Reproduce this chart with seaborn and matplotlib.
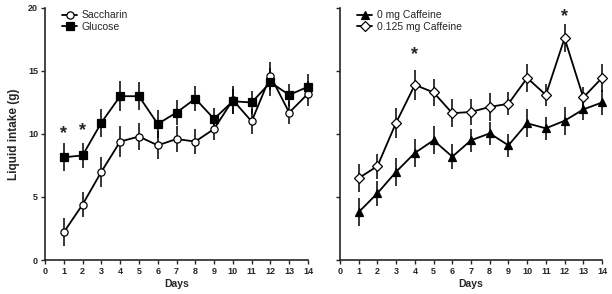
import numpy as np
import pandas as pd
import seaborn as sns
import matplotlib.pyplot as plt

days = list(range(1, 15))

# left panel
saccharin = [2.2, 4.4, 7.0, 9.4, 9.8, 9.1, 9.6, 9.4, 10.4, 12.7, 11.0, 14.6, 11.7, 13.2]
saccharin_err = [1.1, 1.0, 1.2, 1.2, 1.1, 1.1, 1.0, 1.0, 0.9, 1.1, 1.0, 1.1, 0.9, 1.0]
glucose = [8.15, 8.3, 10.9, 13.0, 13.0, 10.8, 11.7, 12.8, 11.2, 12.6, 12.5, 14.1, 13.1, 13.75]
glucose_err = [1.1, 1.0, 1.1, 1.2, 1.1, 1.1, 1.0, 1.0, 0.9, 1.0, 0.9, 1.1, 0.9, 1.0]

# right panel
caff0 = [3.8, 5.3, 7.0, 8.5, 9.5, 8.2, 9.5, 10.05, 9.1, 10.85, 10.45, 11.05, 11.95, 12.5]
caff0_err = [1.1, 1.0, 1.1, 1.1, 1.1, 1.0, 0.9, 0.9, 0.9, 1.1, 0.9, 1.1, 0.8, 1.0]
caff125 = [6.5, 7.45, 10.9, 13.9, 13.3, 11.65, 11.75, 12.15, 12.4, 14.45, 13.1, 17.6, 12.9, 14.45]
caff125_err = [1.1, 1.0, 1.2, 1.2, 1.1, 1.1, 1.0, 1.1, 0.9, 1.1, 0.9, 1.1, 0.8, 1.1]

left_stars = [(1, 10.0), (2, 10.3)]
right_stars = [(4, 16.3), (12, 19.3)]

sns.set_style("ticks")
plt.rcParams['font.family'] = ['Liberation Sans', 'DejaVu Sans']

fig = plt.figure(figsize=(6.12, 2.94), dpi=100)
ax1 = fig.add_axes([45/612, 1-260/294, 263/612, 252/294])
ax2 = fig.add_axes([340/612, 1-260/294, 262/612, 252/294])


def draw(ax, y, err, label, marker, fill):
    df = pd.DataFrame({'day': days, 'val': y})
    ax.errorbar(days, y, yerr=err, fmt='none', ecolor='black', elinewidth=1.1,
                capsize=0, zorder=2, clip_on=False)
    sns.lineplot(data=df, x='day', y='val', ax=ax, color='black', linewidth=1.3,
                 marker=marker, markersize=5.2 if marker != 'D' else 4.6,
                 markerfacecolor=fill, markeredgecolor='black', markeredgewidth=0.9,
                 label=label, clip_on=False, zorder=3)


draw(ax1, saccharin, saccharin_err, 'Saccharin', 'o', 'white')
draw(ax1, glucose, glucose_err, 'Glucose', 's', 'black')
draw(ax2, caff0, caff0_err, '0 mg Caffeine', '^', 'black')
draw(ax2, caff125, caff125_err, '0.125 mg Caffeine', 'D', 'white')

for ax, stars in [(ax1, left_stars), (ax2, right_stars)]:
    for x, y in stars:
        ax.text(x, y, '*', ha='center', va='center', fontsize=13, fontweight='bold')
    ax.set_xlim(0, 14)
    ax.set_ylim(0, 20)
    ax.set_xticks(range(0, 15))
    ax.set_yticks([0, 5, 10, 15, 20])
    ax.set_xlabel('Days', fontsize=7.5, fontweight='bold', labelpad=2)
    ax.tick_params(axis='both', labelsize=6.5, length=3, width=1, pad=2)
    for lab in ax.get_xticklabels() + ax.get_yticklabels():
        lab.set_fontweight('bold')
    for s in ['left', 'bottom']:
        ax.spines[s].set_linewidth(1.2)
    sns.despine(ax=ax)
    ax.legend(loc='upper left', frameon=False, fontsize=7.5, handlelength=1.5,
              borderaxespad=0.2, labelspacing=0.15, handletextpad=0.4,
              bbox_to_anchor=(0.04, 1.015))

ax1.set_ylabel('Liquid intake (g)', fontsize=8.5, fontweight='bold', labelpad=6)
ax2.set_ylabel('')
ax2.set_yticklabels([])

fig.savefig('out.png', dpi=100)
